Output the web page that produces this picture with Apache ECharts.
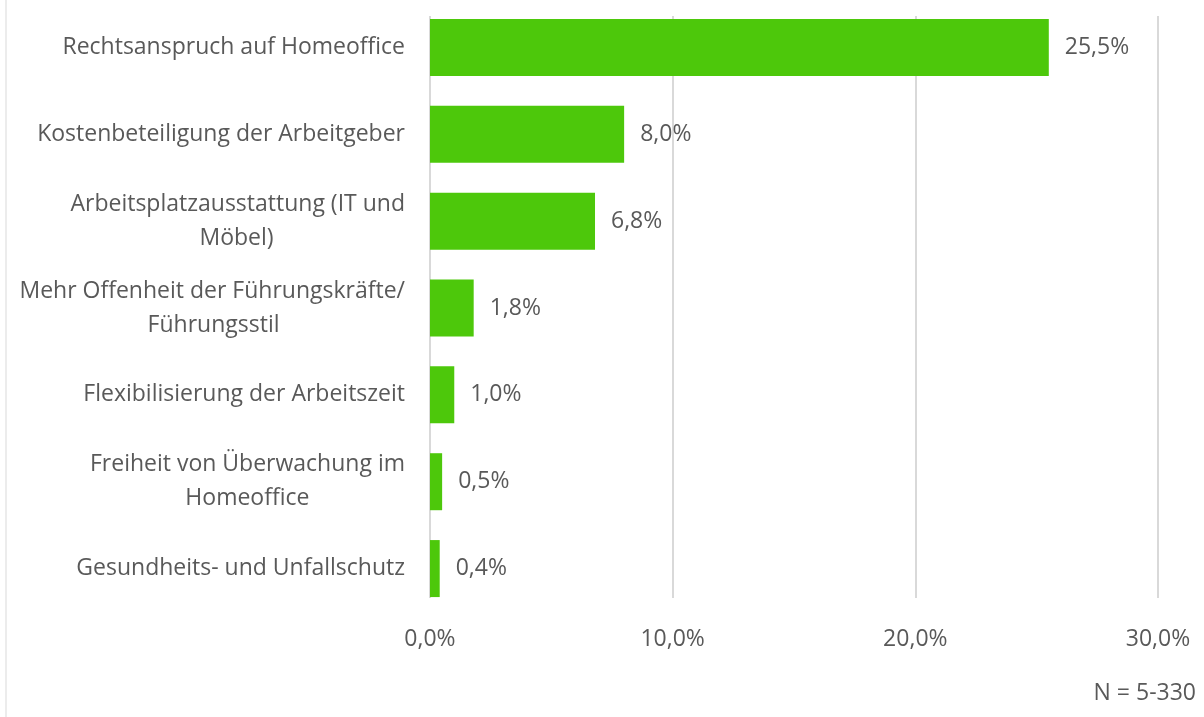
<!DOCTYPE html>
<html><head><meta charset="utf-8">
<script src="https://cdn.jsdelivr.net/npm/echarts@6/dist/echarts.min.js"></script>
<style>html,body{margin:0;padding:0;background:#fff}#c{width:1204px;height:717px}</style>
</head><body><div id="c"></div>
<script>
const categories = [
  "Rechtsanspruch auf Homeoffice",
  "Kostenbeteiligung der Arbeitgeber",
  "Arbeitsplatzausstattung (IT und\nMöbel)",
  "Mehr Offenheit der Führungskräfte/\nFührungsstil",
  "Flexibilisierung der Arbeitszeit",
  "Freiheit von Überwachung im\nHomeoffice",
  "Gesundheits- und Unfallschutz"
];
const values = [25.5, 8.0, 6.8, 1.8, 1.0, 0.5, 0.4];
const xTicks = [0, 10, 20, 30];
const note = "N = 5-330";

const FONT = "Open Sans";
const FS = 23;
const fmt = v => v.toFixed(1).replace('.', ',') + '%';

// Centre the wrapped lines under the first line (label block stays right-aligned)
const ctx = document.createElement('canvas').getContext('2d');
ctx.font = FS + 'px "' + FONT + '"';
const sp = ctx.measureText('\u00a0').width || 6;
const centreLines = c => {
  const lines = c.split('\n');
  if (lines.length < 2) return c;
  const w = Math.max(...lines.map(s => ctx.measureText(s).width));
  return lines.map(s => s + '\u00a0'.repeat(Math.max(0, Math.round((w - ctx.measureText(s).width) / 2 / sp)))).join('\n');
};

const chart = echarts.init(document.getElementById('c'), null, {renderer: 'canvas'});
chart.setOption({
  animation: false,
  textStyle: {fontFamily: FONT},
  grid: [
    {left: 430, right: 46, top: 4, bottom: 105},
    {left: 430, right: 46, top: 16, bottom: 119}
  ],
  xAxis: [
    {gridIndex: 0, type: 'value', min: xTicks[0], max: xTicks[xTicks.length-1], interval: 10,
     axisLine: {show: false}, axisTick: {show: false}, splitLine: {show: false},
     axisLabel: {show: false}},
    {gridIndex: 1, type: 'value', min: xTicks[0], max: xTicks[xTicks.length-1], interval: 10,
     axisLine: {show: false}, axisTick: {show: false},
     splitLine: {show: true, lineStyle: {color: '#d9d9d9', width: 2}},
     axisLabel: {show: true, formatter: v => fmt(v), color: '#595959', fontSize: FS, fontFamily: FONT, margin: 30}}
  ],
  yAxis: [
    {gridIndex: 0, type: 'category', data: categories, inverse: true,
     axisLine: {show: false}, axisTick: {show: false},
     axisLabel: {color: '#595959', fontSize: FS, fontFamily: FONT, margin: 25, lineHeight: 34, align: 'right',
       formatter: centreLines}},
    {gridIndex: 1, type: 'category', data: categories, show: false}
  ],
  series: [{
    type: 'bar', xAxisIndex: 0, yAxisIndex: 0, data: values, barWidth: 57,
    itemStyle: {color: '#4dc80b'},
    label: {show: true, position: 'right', distance: 16, formatter: p => fmt(p.value),
            color: '#595959', fontSize: FS, fontFamily: FONT}
  }],
  graphic: [
    {type: 'line', shape: {x1: 6, y1: 0, x2: 6, y2: 717}, style: {stroke: '#ececec', lineWidth: 2}},
    {type: 'text', right: 8, top: 682, style: {text: note, fill: '#595959', font: FS + 'px "' + FONT + '"'}}
  ]
});
</script></body></html>
